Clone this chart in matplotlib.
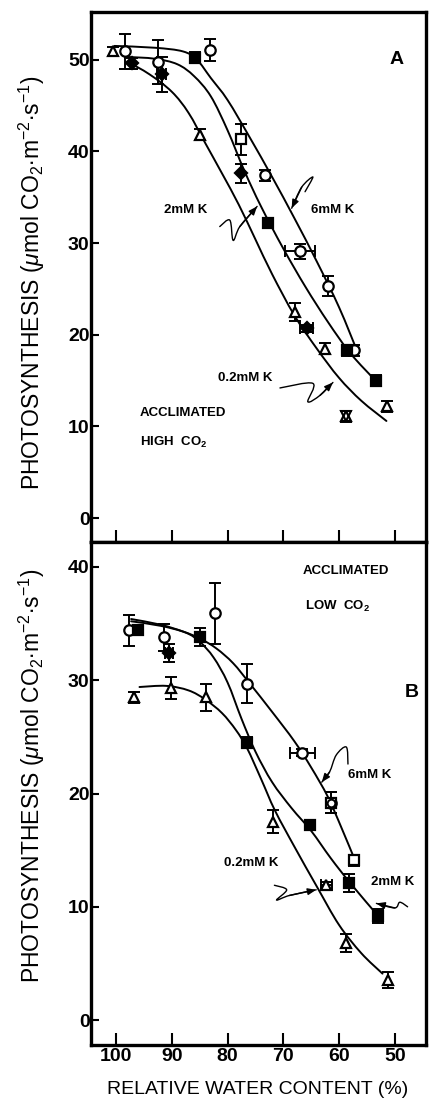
import numpy as np
import matplotlib
matplotlib.use('Agg')
import matplotlib.pyplot as plt
from matplotlib.path import Path
from matplotlib.patches import PathPatch

plt.rcParams['font.family'] = ['Liberation Sans', 'DejaVu Sans']
plt.rcParams['mathtext.fontset'] = 'custom'
plt.rcParams['mathtext.rm'] = 'Liberation Sans'
plt.rcParams['mathtext.it'] = 'Liberation Sans:italic'
plt.rcParams['mathtext.bf'] = 'Liberation Sans:bold'

# ---- panel A : acclimated at high CO2 ----
a6_circ_x = [98.4, 92.4, 83.2, 73.3, 67.0, 62.0, 57.3]
a6_circ_y = [50.9, 49.8, 51.1, 37.4, 29.1, 25.3, 18.3]
a6_circ_yerr = [1.9, 2.4, 1.2, 0.6, 0.8, 1.1, 0.6]
a6_circ_xerr = [0, 0, 0, 0, 2.7, 0, 0]
a6_sq_x = [77.5]
a6_sq_y = [41.3]
a6_sq_yerr = [1.7]
a2_sq_x = [85.8, 72.7, 58.6, 53.4]
a2_sq_y = [50.2, 32.2, 18.3, 15.0]
a2_sq_yerr = [0.6, 0.5, 0.6, 0.6]
a2_dia_x = [97.2, 91.8, 77.5, 65.8]
a2_dia_y = [49.6, 48.4, 37.6, 20.7]
a2_dia_yerr = [0.6, 1.9, 1.0, 0.4]
a2_dia_xerr = [0, 0.8, 0, 1.2]
a02_tri_x = [100.5, 84.9, 67.9, 62.5, 51.4]
a02_tri_y = [50.9, 41.8, 22.5, 18.5, 12.2]
a02_tri_yerr = [0.5, 0.6, 1.0, 0.6, 0.6]
a02_star_x = [58.8]
a02_star_y = [11.1]
a02_star_yerr = [0.6]

# fitted response curves, panel A
a6_fit_x = [100.3, 93.0, 88.0, 85.5, 83.0, 80.0, 76.0, 72.0, 68.0, 64.0, 60.0, 56.6]
a6_fit_y = [51.5, 51.3, 50.9, 50.0, 48.0, 45.6, 41.5, 37.2, 32.7, 28.0, 23.0, 18.0]
a2_fit_x = [98.0, 93.0, 89.0, 86.0, 83.0, 80.0, 77.0, 74.0, 70.0, 66.0, 62.0, 58.0, 53.3]
a2_fit_y = [50.3, 50.1, 49.5, 48.2, 46.0, 42.3, 37.9, 34.0, 29.4, 25.2, 21.4, 18.0, 14.9]
a02_fit_x = [98.0, 94.0, 90.0, 87.0, 84.0, 81.0, 78.0, 75.0, 72.0, 68.0, 64.0, 60.0, 56.0, 51.5]
a02_fit_y = [49.8, 48.4, 46.5, 44.2, 40.9, 37.6, 34.2, 30.4, 26.6, 22.1, 18.5, 15.3, 12.8, 10.6]

# ---- panel B : acclimated at low CO2 ----
b6_circ_x = [97.6, 91.4, 82.2, 76.6, 66.6, 61.4]
b6_circ_y = [34.4, 33.8, 35.9, 29.7, 23.6, 19.2]
b6_circ_yerr = [1.4, 1.2, 2.7, 1.7, 0.3, 0.9]
b6_circ_xerr = [0, 0, 0, 0, 2.2, 0]
b6_sq_x = [61.4, 57.3]
b6_sq_y = [19.2, 14.1]
b6_sq_yerr = [0.9, 0.5]
b2_sq_x = [96.1, 84.9, 76.6, 65.3, 58.2, 53.0]
b2_sq_y = [34.4, 33.8, 24.5, 17.2, 12.1, 9.2]
b2_sq_yerr = [0.3, 0.8, 0.5, 0.4, 0.8, 0.6]
b2_dia_x = [90.5]
b2_dia_y = [32.4]
b2_dia_yerr = [0.8]
b2_dia_xerr = [0.7]
b02_tri_x = [96.7, 90.1, 83.8, 71.9, 62.3, 58.7, 51.2]
b02_tri_y = [28.5, 29.3, 28.5, 17.5, 11.9, 6.8, 3.5]
b02_tri_yerr = [0.5, 1.0, 1.2, 1.0, 0.3, 0.8, 0.7]
b02_tri_xerr = [0, 0, 0, 0, 1.0, 0, 0]

b6_fit_x = [97.3, 92.0, 88.0, 85.0, 82.0, 79.0, 76.0, 72.0, 68.0, 65.0, 62.0, 59.5, 57.3]
b6_fit_y = [35.4, 34.9, 34.3, 33.7, 32.8, 31.5, 29.7, 27.2, 24.6, 22.3, 19.7, 16.9, 14.3]
b2_fit_x = [97.3, 92.0, 87.5, 85.0, 82.5, 80.0, 77.5, 75.0, 72.0, 68.5, 65.0, 61.5, 58.0, 53.0]
b2_fit_y = [35.2, 34.8, 34.2, 33.4, 32.0, 29.8, 26.6, 23.7, 21.0, 18.7, 16.7, 14.3, 12.1, 9.2]
b02_fit_x = [95.8, 91.0, 87.0, 84.0, 81.0, 78.5, 76.5, 74.0, 71.5, 68.0, 64.0, 60.0, 56.0, 52.2]
b02_fit_y = [29.4, 29.5, 29.1, 28.3, 27.1, 25.6, 24.0, 21.3, 18.5, 15.3, 11.8, 8.4, 5.9, 4.1]

x_ticks = [100, 90, 80, 70, 60, 50]
a_y_ticks = [0, 10, 20, 30, 40, 50]
b_y_ticks = [0, 10, 20, 30, 40]

ylabel = r'PHOTOSYNTHESIS ($\mu$mol CO$_2$$\bullet$m$^{-2}$$\bullet$s$^{-1}$)'


def smooth_path(xs, ys):
    # Catmull-Rom spline through the knots, as cubic bezier segments
    pts = np.column_stack([xs, ys]).astype(float)
    verts = [pts[0]]
    codes = [Path.MOVETO]
    n = len(pts)
    for i in range(n - 1):
        p0 = pts[i - 1] if i > 0 else pts[i]
        p1 = pts[i]
        p2 = pts[i + 1]
        p3 = pts[i + 2] if i + 2 < n else pts[i + 1]
        verts += [p1 + (p2 - p0) / 6.0, p2 - (p3 - p1) / 6.0, p2]
        codes += [Path.CURVE4] * 3
    return Path(verts, codes)


def curve(ax, xs, ys, lw=1.4):
    ax.add_patch(PathPatch(smooth_path(xs, ys), fill=False, lw=lw,
                           ec='black', capstyle='round', zorder=2))


def squiggle(ax, xs, ys):
    # hand drawn pointer ending in a small arrow head
    curve(ax, xs, ys, lw=1.0)
    ax.annotate('', xy=(xs[-1], ys[-1]), xytext=(xs[-2], ys[-2]),
                arrowprops=dict(arrowstyle='-|>,head_length=0.5,head_width=0.2',
                                lw=1.0, color='black', shrinkA=0, shrinkB=0))


def points(ax, x, y, yerr, xerr=None, marker='o', filled=False, ms=7.5):
    ax.errorbar(x, y, yerr=yerr, xerr=xerr, fmt='none', ecolor='black',
                elinewidth=1.4, capsize=4.5, capthick=1.4, zorder=3)
    ax.plot(x, y, ls='none', marker=marker, ms=ms, mew=1.6, mec='black',
            mfc='black' if filled else 'white', zorder=4)


def style_axes(ax, ylim, yticks):
    ax.set_xlim(104.5, 44.4)
    ax.set_ylim(*ylim)
    ax.set_xticks(x_ticks)
    ax.set_yticks(yticks)
    for s in ax.spines.values():
        s.set_linewidth(2.4)
    ax.tick_params(axis='both', direction='in', width=1.5, length=9)
    ax.tick_params(axis='y', length=6, pad=1)
    ax.tick_params(axis='x', pad=2)
    for lab in ax.get_yticklabels() + ax.get_xticklabels():
        lab.set_fontsize(14)
        lab.set_fontweight('bold')
    ax.set_ylabel(ylabel, fontsize=16.5)


fig = plt.figure(figsize=(4.30, 11.03), dpi=100)
ax_a = fig.add_axes([91 / 430, 1 - 542 / 1103, 335 / 430, 530 / 1103])
ax_b = fig.add_axes([91 / 430, 1 - 1045 / 1103, 335 / 430, 503 / 1103])

# panel A
style_axes(ax_a, (-2.6, 55.2), a_y_ticks)
ax_a.set_xticklabels([])
ax_a.yaxis.set_label_coords(-0.13, 0.489)
for fx, fy in [(a6_fit_x, a6_fit_y), (a2_fit_x, a2_fit_y), (a02_fit_x, a02_fit_y)]:
    curve(ax_a, fx, fy)
points(ax_a, a6_circ_x, a6_circ_y, a6_circ_yerr, a6_circ_xerr, 'o')
points(ax_a, a6_sq_x, a6_sq_y, a6_sq_yerr, None, 's')
points(ax_a, a2_sq_x, a2_sq_y, a2_sq_yerr, None, 's', True)
points(ax_a, a2_dia_x, a2_dia_y, a2_dia_yerr, a2_dia_xerr, 'D', True, 6.5)
points(ax_a, a02_tri_x, a02_tri_y, a02_tri_yerr, None, '^')
points(ax_a, a02_star_x, a02_star_y, a02_star_yerr, None, '^')
ax_a.plot(a02_star_x, a02_star_y, ls='none', marker='v', ms=7.5, mew=1.5,
          mec='black', mfc='none', zorder=5)

txt = dict(fontsize=9.5, fontweight='bold', ha='center', va='center')
ax_a.text(49.7, 50.0, 'A', fontsize=14, fontweight='bold', ha='center', va='center')
ax_a.text(87.6, 33.6, '2mM K', **txt)
ax_a.text(61.1, 33.6, '6mM K', **txt)
ax_a.text(76.9, 15.3, '0.2mM K', **txt)
ax_a.text(95.7, 11.5, 'ACCLIMATED', fontsize=9.5, fontweight='bold', ha='left', va='center')
ax_a.text(95.7, 8.3, r'HIGH  CO$_\mathbf{2}$', fontsize=9.5, fontweight='bold',
          ha='left', va='center')
squiggle(ax_a, [66.1, 64.7, 66.7, 68.5], [35.6, 37.2, 36.1, 33.8])
squiggle(ax_a, [81.4, 79.6, 79.0, 77.8, 74.7], [31.8, 32.5, 30.3, 31.8, 34.0])
squiggle(ax_a, [70.6, 64.7, 65.6, 63.4, 61.1], [14.2, 14.7, 12.7, 13.4, 14.8])

# panel B
style_axes(ax_b, (-2.2, 42.2), b_y_ticks)
ax_b.yaxis.set_label_coords(-0.13, 0.535)
for fx, fy in [(b6_fit_x, b6_fit_y), (b2_fit_x, b2_fit_y), (b02_fit_x, b02_fit_y)]:
    curve(ax_b, fx, fy)
points(ax_b, b6_circ_x, b6_circ_y, b6_circ_yerr, b6_circ_xerr, 'o')
points(ax_b, b6_sq_x, b6_sq_y, b6_sq_yerr, None, 's')
ax_b.plot(b6_sq_x[:1], b6_sq_y[:1], ls='none', marker='o', ms=5.5, mew=1.4,
          mec='black', mfc='white', zorder=5)
points(ax_b, b2_sq_x, b2_sq_y, b2_sq_yerr, None, 's', True)
points(ax_b, b2_dia_x, b2_dia_y, b2_dia_yerr, b2_dia_xerr, 'D', True, 6.5)
points(ax_b, b02_tri_x, b02_tri_y, b02_tri_yerr, b02_tri_xerr, '^')

ax_b.text(47.0, 28.9, 'B', fontsize=14, fontweight='bold', ha='center', va='center')
ax_b.text(58.7, 39.6, 'ACCLIMATED', **txt)
ax_b.text(60.3, 36.5, r'LOW  CO$_\mathbf{2}$', **txt)
ax_b.text(54.6, 21.6, '6mM K', **txt)
ax_b.text(75.7, 13.9, '0.2mM K', **txt)
ax_b.text(50.4, 12.2, '2mM K', **txt)
squiggle(ax_b, [58.4, 58.7, 60.5, 61.7, 63.1], [22.6, 24.1, 23.4, 21.9, 21.0])
squiggle(ax_b, [71.6, 69.4, 71.2, 68.9, 64.1], [11.9, 11.5, 10.6, 11.0, 11.5])
squiggle(ax_b, [47.7, 49.1, 50.0, 53.3], [10.0, 10.4, 9.9, 10.3])

fig.text(0.60, 1 - 1090 / 1103, 'RELATIVE WATER CONTENT (%)', fontsize=14,
         ha='center', va='center')

fig.savefig('out.png', dpi=100)
